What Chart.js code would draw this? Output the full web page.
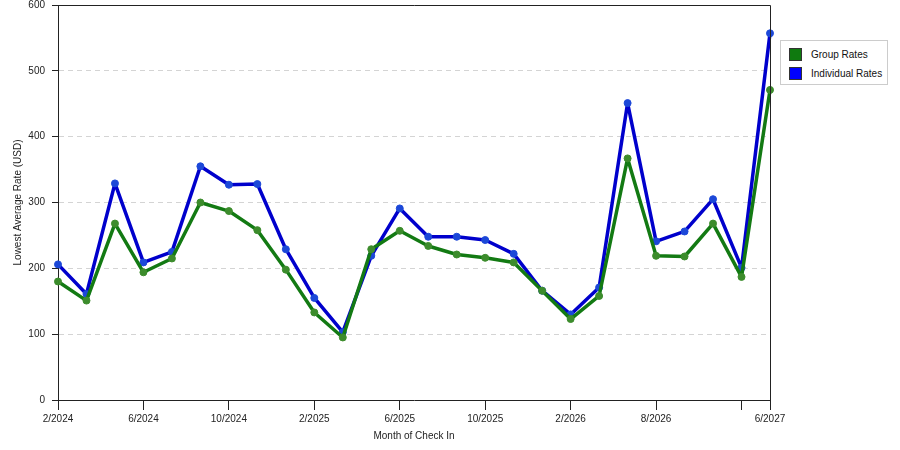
<!DOCTYPE html>
<html>
<head>
<meta charset="utf-8">
<script src="https://cdn.jsdelivr.net/npm/chart.js@4"></script>
<style>
  body { margin: 0; background: #fff; font-family: "Liberation Sans", Arial, sans-serif; }
  #wrap { position: relative; width: 900px; height: 450px; }
  #legend {
    position: absolute; left: 780px; top: 40px; width: 108px; height: 45px;
    border: 1px solid #ccc; background: #fff; box-sizing: border-box;
    font-size: 10px; color: #111;
  }
  .legend-item { position: absolute; left: 8px; height: 13px; line-height: 13px; }
  .legend-box { display: inline-block; width: 11px; height: 11px; border: 1px solid #333;
                vertical-align: top; margin-right: 9px; }
</style>
</head>
<body>
<div id="wrap">
  <canvas id="rates-chart" width="900" height="450"></canvas>
  <div id="legend"></div>
</div>
<script>
// ── Data ──────────────────────────────────────────────────────
const months = [
  '2/2024', '3/2024', '4/2024', '6/2024', '7/2024', '8/2024',
  '10/2024', '11/2024', '12/2024', '2/2025', '3/2025', '4/2025',
  '6/2025', '7/2025', '8/2025', '10/2025', '11/2025', '12/2025',
  '2/2026', '3/2026', '4/2026', '8/2026', '9/2026', '10/2026',
  '12/2026', '6/2027'
];

// months that get a labelled tick on the x axis
const labelledMonths = ['2/2024', '6/2024', '10/2024', '2/2025', '6/2025',
                        '10/2025', '2/2026', '8/2026', '6/2027'];
// months with a tick mark but no label
const tickOnlyMonths = ['12/2026'];

const groupRates = [
  180, 151, 268, 194, 215, 300, 287, 258, 198, 133, 95, 229,
  257, 234, 221, 216, 209, 166, 123, 158, 367, 219, 218, 268,
  187, 471
];

const individualRates = [
  206, 161, 329, 209, 225, 355, 327, 328, 229, 155, 103, 219,
  291, 248, 248, 243, 222, 166, 130, 171, 451, 241, 256, 305,
  201, 557
];

const SERIES = [
  { label: 'Group Rates',      data: groupRates,      line: '#137a13', point: '#3c8c2c', box: '#0f7a0f' },
  { label: 'Individual Rates', data: individualRates, line: '#0000cc', point: '#1c48d8', box: '#0000ff' }
];

// ── Frame round the plot area (top and right edges) ───────────
const framePlugin = {
  id: 'frame',
  afterDraw(chart) {
    const a = chart.chartArea;
    const ctx = chart.ctx;
    ctx.save();
    ctx.strokeStyle = '#222';
    ctx.lineWidth = 1;
    ctx.beginPath();
    ctx.moveTo(a.left, a.top + 0.5);
    ctx.lineTo(a.right + 0.5, a.top + 0.5);
    ctx.lineTo(a.right + 0.5, a.bottom);
    ctx.stroke();
    ctx.restore();
  }
};

const font = { family: '"Liberation Sans", Arial, sans-serif', size: 10 };

new Chart(document.getElementById('rates-chart'), {
  type: 'line',
  data: {
    labels: months,
    datasets: SERIES.map(function (s) {
      return {
        label: s.label,
        data: s.data,
        borderColor: s.line,
        borderWidth: 3.5,
        borderJoinStyle: 'round',
        pointRadius: 3.5,
        pointBackgroundColor: s.point,
        pointBorderColor: s.point,
        pointBorderWidth: 1,
        tension: 0
      };
    })
  },
  options: {
    responsive: false,
    animation: false,
    layout: { padding: { top: 5, right: 130, left: 0, bottom: 0 } },
    plugins: { legend: { display: false }, tooltip: { enabled: false } },
    scales: {
      x: {
        offset: false,
        afterFit: function (s) {
          s.height = 50;
          s.paddingLeft = 0;
          s.paddingRight = 0;
        },
        border: { color: '#222', width: 1 },
        grid: {
          drawOnChartArea: false,
          tickLength: 10,
          color: '#222'
        },
        ticks: {
          autoSkip: false,
          maxRotation: 0,
          padding: 3,
          color: '#222',
          font: font,
          callback: function (value, index) {
            const m = months[index];
            if (labelledMonths.includes(m)) return m;
            if (tickOnlyMonths.includes(m)) return '';
            return null;
          }
        },
        title: {
          display: true,
          text: 'Month of Check In',
          color: '#222',
          font: font,
          padding: { top: 2, bottom: 8 }
        }
      },
      y: {
        min: 0,
        max: 600,
        afterFit: function (s) {
          s.width = 58;
          s.paddingTop = 0;
          s.paddingBottom = 0;
        },
        border: { color: '#222', width: 1, dash: [5, 4] },
        grid: {
          tickLength: 6,
          color: function (ctx) {
            const v = ctx.tick && ctx.tick.value;
            return (v === 0 || v === 600) ? 'rgba(0,0,0,0)' : '#d4d4d4';
          },
          tickColor: '#222',
          tickBorderDash: [],
          lineWidth: 1
        },
        ticks: {
          stepSize: 100,
          padding: 7,
          color: '#222',
          font: font
        },
        title: {
          display: true,
          text: 'Lowest Average Rate (USD)',
          color: '#222',
          font: font,
          padding: { top: 12, bottom: 0 }
        }
      }
    }
  },
  plugins: [framePlugin]
});

// ── Legend ────────────────────────────────────────────────────
document.getElementById('legend').innerHTML = SERIES.map(function (s, i) {
  return `
    <div class="legend-item" style="top:${7 + i * 19}px">
      <span class="legend-box" style="background:${s.box}"></span>${s.label}
    </div>
  `;
}).join('');
</script>
</body>
</html>
